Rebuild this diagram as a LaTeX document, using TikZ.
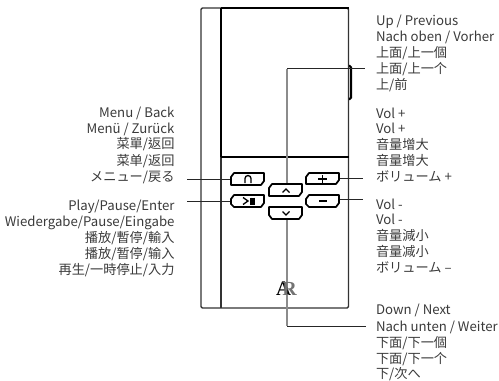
\documentclass[tikz,border=0pt]{standalone}
\usepackage{fontspec}
\setmainfont{Noto Sans CJK SC}
\newfontfamily\tcfont{Noto Sans CJK TC}
\newfontfamily\jpfont{Noto Sans CJK JP}
\newfontfamily\logofont{Liberation Serif}
\definecolor{txt}{HTML}{3A3A3A}
\tikzset{
  lab/.style={font=\fontsize{9.9pt}{11pt}\selectfont,text=txt,inner sep=0pt,outer sep=0pt,yshift=-1.1pt},
  labl/.style={lab,anchor=mid west},
  labr/.style={lab,anchor=mid east},
  body/.style={line width=1.1pt,draw=black!80},
  keyb/.style={line width=1.3pt,draw=black,fill=white,line join=round},
  glyph/.style={line width=1pt,draw=black},
  leader/.style={line width=0.75pt,draw=black!85},
  leadg/.style={line width=1pt,draw=black!45}
}
\begin{document}
\begin{tikzpicture}[x=0.75pt,y=-0.75pt]
\useasboundingbox (0,0) rectangle (499,381);
% text, right column
\node[labl] (t1) at (376,20) {Up / Previous};
\node[labl] (t2) at (376,36.5) {Nach oben / Vorher};
\node[labl] (t3) at (376,52) {\tcfont 上面/上一個};
\node[labl] (t4) at (376,68) {上面/上一个};
\node[labl] (t5) at (376,84.5) {\jpfont 上/前};
\node[labl] (v1) at (376,113) {Vol +};
\node[labl] (v2) at (376,128.5) {Vol +};
\node[labl] (v3) at (376,144) {\tcfont 音量增大};
\node[labl] (v4) at (376,160) {音量增大};
\node[labl] (v5) at (376,176.5) {\jpfont ボリューム +};
\node[labl] (m1) at (376,204) {Vol -};
\node[labl] (m2) at (376,219.5) {Vol -};
\node[labl] (m3) at (376,235) {\tcfont 音量減小};
\node[labl] (m4) at (376,251) {音量减小};
\node[labl] (m5) at (376,267.5) {\jpfont ボリューム –};
\node[labl] (d1) at (376,309.5) {Down / Next};
\node[labl] (d2) at (376,326) {Nach unten / Weiter};
\node[labl] (d3) at (376,342) {\tcfont 下面/下一個};
\node[labl] (d4) at (376,358) {下面/下一个};
\node[labl] (d5) at (376,373.5) {\jpfont 下/次へ};
% text, left column
\node[labr] (a1) at (174.5,112.5) {Menu / Back};
\node[labr] (a2) at (174.5,128) {Menü / Zurück};
\node[labr] (a3) at (174.5,143.5) {\tcfont 菜單/返回};
\node[labr] (a4) at (174.5,160) {菜单/返回};
\node[labr] (a5) at (174.5,176.5) {\jpfont メニュー/戻る};
\node[labr] (b1) at (174.5,205.5) {Play/Pause/Enter};
\node[labr] (b2) at (174.5,221.5) {Wiedergabe/Pause/Eingabe};
\node[labr] (b3) at (174.5,237) {\tcfont 播放/暫停/輸入};
\node[labr] (b4) at (174.5,253) {播放/暂停/输入};
\node[labr] (b5) at (174.5,269.5) {\jpfont 再生/一時停止/入力};
% device
\draw[body,rounded corners=1pt] (201,8) rectangle (348.5,308);
\draw[line width=1.5pt,draw=black] (221,8) -- (348.5,8);
\draw[line width=1.5pt,draw=black] (221,8) -- (221,157);
\draw[body] (221,157) -- (221,308);
\draw[line width=1.3pt,draw=black] (221,157) -- (348.5,157);
\draw[line width=1.6pt,draw=black,rounded corners=1pt] (349,66) -- (351,66) -- (351,99) -- (349,99);
% connector coordinates
\coordinate (cupr) at (365,69);
\coordinate (cupc) at (287,69);
\coordinate (cdnr) at (366,326);
\coordinate (cdnc) at (287,326);
\coordinate (cmenu) at (187,179);
\coordinate (cplay) at (187,201);
\coordinate (cplus) at (363,178);
\coordinate (cminus) at (363,199);
% leaders
\draw[leader] (cupc) -- (cupr);
\draw[leader] (cdnc) -- (cdnr);
\draw[leadg] (cupc) -- (287,184);
\draw[leadg] (287,219) -- (cdnc);
\draw[leader] (cmenu) -- (231,179);
\draw[leader] (cplay) -- (231,201);
\draw[leader] (339,178) -- (cplus);
\draw[leader] (339,199) -- (cminus);
% logo
\node[inner sep=0pt,font=\logofont\bfseries\fontsize{15.5pt}{16pt}\selectfont,text=black] (logoa) at (283.5,288.5) {A};
\node[inner sep=0pt,font=\logofont\bfseries\fontsize{15pt}{16pt}\selectfont,text=black!55] (logor) at (289.5,289) {R};
% keys
\draw[keyb] (234,173) -- (264,173) -- (264,181) -- (261,185) -- (231,185) -- (231,177) -- cycle;
\draw[keyb] (234,195) -- (264,195) -- (264,203) -- (261,207) -- (234,207) -- (231,204) -- (231,199) -- cycle;
\draw[keyb] (272,184) -- (302,184) -- (302,192) -- (299,196) -- (269,196) -- (269,188) -- cycle;
\draw[keyb] (269,207) -- (302,207) -- (302,215) -- (299,219) -- (272,219) -- (269,215) -- cycle;
\draw[keyb] (309,173) -- (339,173) -- (339,180) -- (336,184) -- (306,184) -- (306,177) -- cycle;
\draw[keyb] (309,195) -- (339,195) -- (339,203) -- (336,207) -- (309,207) -- (306,204) -- (306,199) -- cycle;
% glyphs
\draw[glyph] (245,183) -- (245,178.5) arc (180:360:3) -- (251,183);
\draw[glyph] (243,197.5) -- (248,201) -- (243,204.5);
\draw[line width=1.5pt] (250.5,197.5) -- (250.5,204.5);
\draw[line width=2pt] (253.5,197.5) -- (253.5,204.5);
\draw[glyph] (282.5,192.5) -- (286,189) -- (289.5,192.5);
\draw[glyph] (282.5,211.5) -- (286,215) -- (289.5,211.5);
\draw[line width=1.2pt] (318,179) -- (327,179) (322.5,175) -- (322.5,183);
\draw[line width=1.2pt] (319,201) -- (327,201);
\end{tikzpicture}
\end{document}
